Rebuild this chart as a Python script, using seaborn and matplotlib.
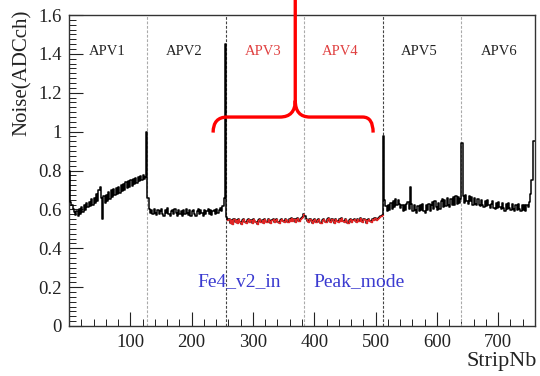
import numpy as np
import pandas as pd
import matplotlib
matplotlib.use("Agg")
import matplotlib.pyplot as plt
from matplotlib.ticker import MultipleLocator, FuncFormatter
from matplotlib.path import Path
from matplotlib.patches import PathPatch
import seaborn as sns

# Pedestal noise per strip pair (2-strip bins), one list per APV25 chip
apv1 = [0.80, 0.64, 0.62, 0.60, 0.585, 0.57, 0.59, 0.565, 0.60, 0.575,
        0.61, 0.585, 0.62, 0.595, 0.635, 0.61, 0.64, 0.615, 0.655, 0.625,
        0.66, 0.635, 0.68, 0.645, 0.70, 0.715, 0.66, 0.55, 0.67, 0.635,
        0.675, 0.645, 0.69, 0.655, 0.70, 0.665, 0.705, 0.675, 0.71, 0.68,
        0.715, 0.685, 0.725, 0.695, 0.73, 0.70, 0.74, 0.71, 0.745, 0.715,
        0.75, 0.72, 0.755, 0.73, 0.76, 0.735, 0.765, 0.745, 0.77, 0.75,
        0.775, 0.755, 0.765, 1.00]
apv2 = [0.66, 0.60, 0.58, 0.595, 0.575, 0.60, 0.58, 0.57, 0.595, 0.575,
        0.59, 0.60, 0.575, 0.565, 0.595, 0.58, 0.605, 0.575, 0.565, 0.59,
        0.595, 0.575, 0.60, 0.58, 0.565, 0.595, 0.575, 0.59, 0.565, 0.595,
        0.575, 0.60, 0.58, 0.57, 0.595, 0.565, 0.59, 0.595, 0.575, 0.565,
        0.59, 0.60, 0.575, 0.595, 0.58, 0.565, 0.595, 0.575, 0.59, 0.60,
        0.575, 0.595, 0.57, 0.59, 0.595, 0.575, 0.60, 0.58, 0.595, 0.605,
        0.59, 0.615, 0.66, 1.45]
apv3 = [0.56, 0.545, 0.55, 0.53, 0.545, 0.525, 0.55, 0.535, 0.545, 0.53,
        0.55, 0.535, 0.525, 0.545, 0.55, 0.535, 0.53, 0.545, 0.55, 0.535,
        0.545, 0.53, 0.55, 0.54, 0.535, 0.525, 0.545, 0.55, 0.535, 0.545,
        0.53, 0.55, 0.54, 0.535, 0.55, 0.54, 0.53, 0.545, 0.55, 0.535,
        0.545, 0.55, 0.535, 0.53, 0.545, 0.55, 0.54, 0.535, 0.55, 0.545,
        0.535, 0.55, 0.54, 0.555, 0.54, 0.55, 0.535, 0.55, 0.555, 0.54,
        0.55, 0.555, 0.56, 0.575]
apv4 = [0.565, 0.55, 0.54, 0.535, 0.55, 0.54, 0.53, 0.545, 0.55, 0.535,
        0.545, 0.55, 0.535, 0.53, 0.545, 0.55, 0.54, 0.535, 0.55, 0.555,
        0.54, 0.535, 0.55, 0.54, 0.53, 0.55, 0.54, 0.535, 0.55, 0.54,
        0.555, 0.54, 0.535, 0.55, 0.54, 0.53, 0.545, 0.55, 0.535, 0.545,
        0.55, 0.54, 0.535, 0.55, 0.54, 0.555, 0.54, 0.535, 0.55, 0.545,
        0.53, 0.545, 0.55, 0.54, 0.535, 0.55, 0.545, 0.555, 0.545, 0.55,
        0.555, 0.56, 0.565, 0.57]
apv5 = [0.98, 0.65, 0.615, 0.59, 0.625, 0.595, 0.635, 0.60, 0.645, 0.61,
        0.655, 0.62, 0.65, 0.63, 0.605, 0.625, 0.59, 0.62, 0.595, 0.63,
        0.64, 0.60, 0.715, 0.63, 0.59, 0.62, 0.595, 0.58, 0.615, 0.59,
        0.625, 0.595, 0.63, 0.59, 0.58, 0.62, 0.595, 0.63, 0.59, 0.625,
        0.64, 0.60, 0.645, 0.61, 0.595, 0.635, 0.60, 0.645, 0.655, 0.61,
        0.65, 0.615, 0.66, 0.62, 0.61, 0.655, 0.625, 0.665, 0.62, 0.67,
        0.63, 0.665, 0.635, 0.655]
apv6 = [0.94, 0.67, 0.635, 0.675, 0.645, 0.63, 0.67, 0.645, 0.665, 0.625,
        0.66, 0.63, 0.62, 0.655, 0.625, 0.615, 0.65, 0.62, 0.61, 0.645,
        0.615, 0.65, 0.62, 0.605, 0.63, 0.645, 0.605, 0.60, 0.635, 0.605,
        0.64, 0.61, 0.60, 0.635, 0.605, 0.59, 0.63, 0.60, 0.635, 0.605,
        0.595, 0.63, 0.60, 0.59, 0.625, 0.595, 0.63, 0.60, 0.59, 0.625,
        0.595, 0.62, 0.59, 0.625, 0.61, 0.64, 0.68, 0.75, 0.95, 0.95,
        0.95, 0.95, 0.95, 0.95]

apv_names = ["APV1", "APV2", "APV3", "APV4", "APV5", "APV6"]
apv_noise = [apv1, apv2, apv3, apv4, apv5, apv6]
highlighted = ["APV3", "APV4"]
label_strip = [62, 188, 317, 443, 572, 701]
chip_boundaries = [128, 256, 384, 512, 640]
run_tag = "Fe4_v2_in"
mode_tag = "Peak_mode"

STRIPS_PER_APV = 128
BIN = 2

rows = []
for k, (name, vals) in enumerate(zip(apv_names, apv_noise)):
    start = k * STRIPS_PER_APV
    xs = start + BIN * np.arange(len(vals) + 1)
    ys = list(vals) + [vals[-1]]
    for x, y in zip(xs, ys):
        rows.append({"strip": x, "noise": y, "apv": name})
df = pd.DataFrame(rows)

sns.set_theme(style="white")
plt.rcParams["font.family"] = ["Liberation Serif", "DejaVu Serif"]
plt.rcParams["axes.edgecolor"] = "#333333"

fig = plt.figure(figsize=(5.4, 3.76), dpi=100)
ax = fig.add_axes([69 / 540, 1 - 326 / 376, (535 - 69) / 540, (326 - 15) / 376])

# chip boundaries
for b in chip_boundaries:
    dark = b in (256, 512)
    ax.axvline(b, color="#444444" if dark else "#aaaaaa", lw=0.8,
               ls=(0, (2.5, 1.5)), zorder=1)

# full noise profile in black, highlighted chips overdrawn in red
full = df.drop_duplicates(subset="strip", keep="last")
sns.lineplot(data=full, x="strip", y="noise", color="black", lw=1.1,
             drawstyle="steps-post", estimator=None, ax=ax, zorder=3)
for name in highlighted:
    sub = df[df["apv"] == name].iloc[1:]
    sns.lineplot(data=sub, x="strip", y="noise", color="#e02424", lw=1.0,
                 drawstyle="steps-post", estimator=None, ax=ax, zorder=4)

ax.set_xlim(0, 760)
ax.set_ylim(0, 1.6)

ax.xaxis.set_major_locator(MultipleLocator(100))
ax.xaxis.set_minor_locator(MultipleLocator(20))
ax.yaxis.set_major_locator(MultipleLocator(0.2))
ax.yaxis.set_minor_locator(MultipleLocator(0.025))
ax.set_xticks([100, 200, 300, 400, 500, 600, 700])
ax.yaxis.set_major_formatter(FuncFormatter(lambda v, p: "%g" % round(v, 2)))
ax.tick_params(which="major", direction="in", length=10, width=0.8,
               labelsize=13.5, color="#222222", labelcolor="#222222")
ax.tick_params(which="minor", direction="in", length=5, width=0.7,
               color="#222222")
ax.tick_params(axis="x", which="both", top=False, bottom=True, pad=6)
ax.tick_params(axis="y", which="both", left=True, right=False, pad=5)
for s in ax.spines.values():
    s.set_linewidth(1.0)

ax.set_xlabel("StripNb", loc="right", fontsize=16, color="#222222")
ax.xaxis.set_label_coords(1.005, -0.085)
ax.xaxis.label.set_va("top")
ax.set_ylabel("Noise(ADCch)", loc="top", fontsize=15, color="#222222")
ax.yaxis.set_label_coords(-0.08, 1.017)

for name, xs in zip(apv_names, label_strip):
    col = "#e04040" if name in highlighted else "#222222"
    ax.text(xs, 1.41, name, ha="center", va="center", fontsize=10.5, color=col)

ax.text(209, 0.226, run_tag, color="#3a3ad0", fontsize=14, va="center")
ax.text(398, 0.226, mode_tag, color="#3a3ad0", fontsize=14, va="center")

# curly brace spanning the highlighted chips
verts = [
    (369, 1.72), (369, 1.16),
    (369, 1.075), (344, 1.075),
    (258, 1.075),
    (235, 1.075), (235, 0.995),
    (369, 1.16),
    (369, 1.075), (393, 1.075),
    (479, 1.075),
    (496, 1.075), (496, 0.995),
]
codes = [
    Path.MOVETO, Path.LINETO,
    Path.CURVE3, Path.CURVE3,
    Path.LINETO,
    Path.CURVE3, Path.CURVE3,
    Path.MOVETO,
    Path.CURVE3, Path.CURVE3,
    Path.LINETO,
    Path.CURVE3, Path.CURVE3,
]
brace = PathPatch(Path(verts, codes), fill=False, edgecolor="#ff0000",
                  lw=2.4, clip_on=False, zorder=6, capstyle="butt")
ax.add_patch(brace)

fig.savefig("out.png", dpi=100)
